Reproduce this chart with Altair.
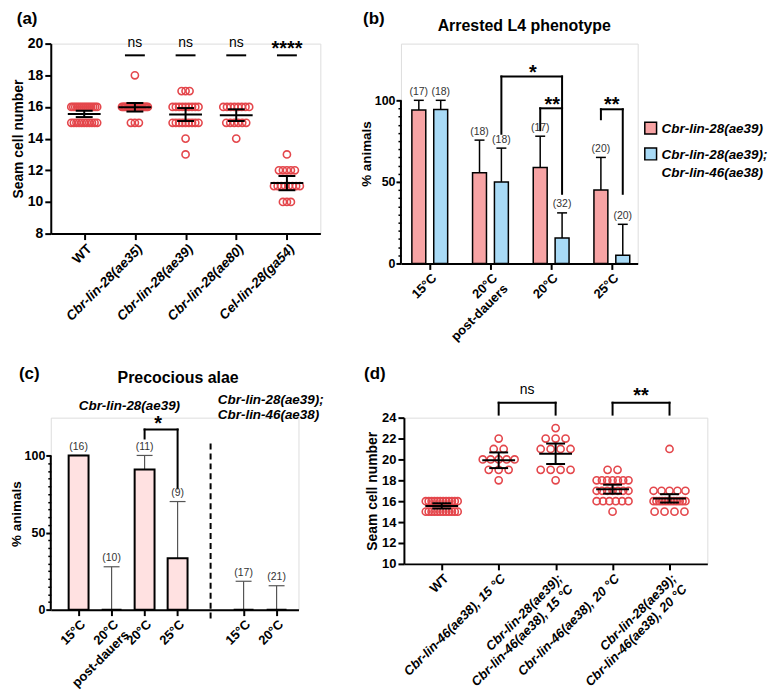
import json
import altair as alt
import pandas as pd

FONT = "Liberation Sans"
DOT_RED = "#E4474C"
BAR_RED = "#F7A3A4"
BAR_BLUE = "#A8DAF6"
BAR_PINK = "#FFE1E1"

# ================= values =================
# (a) seam cell numbers: counts of animals per seam-cell value
a_labels = ["WT", "Cbr-lin-28(ae35)", "Cbr-lin-28(ae39)", "Cbr-lin-28(ae80)", "Cel-lin-28(ga54)"]
a_dots = [
    {16: 14, 15: 11},
    {18: 1, 16: 20, 15: 3},
    {17: 3, 16: 9, 15: 9, 14: 1, 13: 1},
    {16: 8, 15: 6, 14: 1},
    {13: 1, 12: 5, 11: 8, 10: 3},
]
a_mean = [15.56, 15.98, 15.52, 15.48, 11.19]
a_sem = [0.20, 0.27, 0.41, 0.37, 0.45]
a_sig = ["", "ns", "ns", "ns", "****"]

# (b) arrested L4 phenotype (% animals)
b_labels = ["15°C", ["20°C", "post-dauers"], "20°C", "25°C"]
b_series = ["Cbr-lin-28(ae39)", "Cbr-lin-28(ae39); Cbr-lin-46(ae38)"]
b_single = [94.1, 55.6, 58.8, 45.0]
b_single_hi = [100, 75.6, 78.0, 65.0]
b_single_n = [17, 18, 17, 20]
b_double = [94.4, 50.0, 15.6, 5.0]
b_double_hi = [100, 70.7, 31.0, 24.0]
b_double_n = [18, 18, 32, 20]

# (c) precocious alae (% animals)
c_labels = ["15°C", ["20°C", "post-dauers"], "20°C", "25°C", "", "15°C", "20°C"]
c_pos = [0, 1, 2, 3, 5, 6]
c_val = [100, 0, 90.9, 33.3, 0, 0]
c_hi = [100, 27.8, 100, 70.1, 18.4, 15.5]
c_n = [16, 10, 11, 9, 17, 21]

# (d) seam cell numbers
d_labels = ["WT", "Cbr-lin-46(ae38), 15 °C", ["Cbr-lin-28(ae39);", "Cbr-lin-46(ae38), 15 °C"],
            "Cbr-lin-46(ae38), 20 °C", ["Cbr-lin-28(ae39);", "Cbr-lin-46(ae38), 20 °C"]]
d_dots = [
    {16: 12, 15: 12},
    {22: 1, 21: 2, 20: 5, 19: 3, 18: 1},
    {23: 1, 22: 3, 21: 4, 19: 4, 18: 1},
    {19: 2, 18: 7, 17: 7, 16: 6, 15: 1},
    {21: 1, 17: 5, 16: 12, 15: 4},
]
d_mean = [15.55, 19.92, 20.54, 17.15, 16.27]
d_sem = [0.25, 0.75, 0.98, 0.43, 0.40]

# ================= layout (plot sizes, domains, annotations) =================
# (b) and (c) plot areas reach up to the top of their row neighbours; their
# axis line is only drawn over 0-100 %.
A_W, A_H, A_XD, A_YD = 271, 191, [-0.66, 4.66], [8, 20]
B_W, B_H, B_XD, B_YD = 238, 221, [-0.475, 3.426], [0, 100 * 221 / 164]
C_W, C_H, C_XD, C_YD = 249, 193, [-0.843, 6.663], [0, 100 * 193 / 155]
D_W, D_H, D_XD, D_YD = 305, 147, [-0.664, 4.664], [10, 24]


def ppu(w, dom):
    return w / (dom[1] - dom[0])


def scale(dom):
    return alt.Scale(domain=dom, nice=False, zero=False)


def label_expr(labels):
    return json.dumps(labels, ensure_ascii=False) + "[datum.value]"


def x_axis(labels, values, fs, upright_test=None):
    kw = dict(values=values, labelExpr=label_expr(labels), labelAngle=-45, labelAlign="right",
              labelBaseline="top", labelFontSize=fs, labelFontWeight="bold", labelOverlap=False,
              labelPadding=2, tickSize=6, tickWidth=2, domainWidth=2, grid=False, labelFont=FONT,
              labelColor="black", tickColor="black", domainColor="black", labelFlush=False)
    if upright_test:
        kw["labelFontStyle"] = {"condition": {"test": upright_test, "value": "normal"}, "value": "italic"}
    else:
        kw["labelFontStyle"] = "normal"
    return alt.Axis(**kw)


def y_axis(values, fs, minor=False):
    kw = dict(values=values, labelFontSize=fs, labelFontWeight="bold", tickSize=6, tickWidth=2,
              domainWidth=2, grid=False, labelPadding=2, labelFont=FONT, labelColor="black",
              tickColor="black", domainColor="black", titleFont=FONT, titleFontSize=14,
              titleFontWeight="bold", titleColor="black", titlePadding=2)
    if minor:
        kw["labelExpr"] = "datum.value % 50 === 0 ? datum.label : ''"
        kw["tickSize"] = {"condition": {"test": "datum.value % 50 === 0", "value": 5}, "value": 3}
        kw["tickWidth"] = {"condition": {"test": "datum.value % 50 === 0", "value": 2}, "value": 1.5}
        kw["domain"] = False
        kw["labelPadding"] = 1
        kw["titlePadding"] = 1
        kw["titleFontSize"] = 13.5
    return alt.Axis(**kw)


class Panel:
    def __init__(self, w, h, xd, yd, xaxis, yaxis, ytitle):
        self.w, self.h, self.xd, self.yd = w, h, xd, yd
        self.xaxis, self.yaxis, self.ytitle = xaxis, yaxis, ytitle
        self.px = ppu(w, xd)
        self.py = ppu(h, yd)

    def X(self):
        return alt.X("x:Q", scale=scale(self.xd), axis=self.xaxis, title=None)

    def Y(self):
        return alt.Y("y:Q", scale=scale(self.yd), axis=self.yaxis, title=self.ytitle)

    def points(self, df, **mk):
        return alt.Chart(df).mark_point(**mk).encode(x=self.X(), y=self.Y())

    def rules(self, df, **mk):
        return alt.Chart(df).mark_rule(**mk).encode(x=self.X(), x2=alt.X2("x2"), y=self.Y(), y2=alt.Y2("y2"))

    def rects(self, df, color, **mk):
        return alt.Chart(df).mark_rect(**mk).encode(x=self.X(), x2=alt.X2("x2"), y=self.Y(), y2=alt.Y2("y2"),
                                                    color=color)

    def text(self, df, fs, vc, extra_dy=0, **mk):
        return alt.Chart(df).mark_text(font=FONT, fontSize=fs, baseline="alphabetic",
                                       dy=round(vc * fs + extra_dy, 2), **mk).encode(
            x=self.X(), y=self.Y(), text="t:N")

    def chart(self, layers):
        return alt.layer(*layers).properties(width=self.w, height=self.h)


def beeswarm(groups, ppx, max_step_px, max_span_px):
    rows = []
    for gi, counts in enumerate(groups):
        for val, k in counts.items():
            step = 0 if k == 1 else min(max_step_px, max_span_px / (k - 1))
            for j in range(k):
                rows.append({"x": gi + (j - (k - 1) / 2) * step / ppx, "y": val})
    return pd.DataFrame(rows)


def mean_sem(means, sems, ppx, mean_half_px, cap_half_px):
    rows = []
    mh, ch = mean_half_px / ppx, cap_half_px / ppx
    for i, (m, s) in enumerate(zip(means, sems)):
        rows += [dict(x=i - mh, x2=i + mh, y=m, y2=m),
                 dict(x=i - ch, x2=i + ch, y=m + s, y2=m + s),
                 dict(x=i - ch, x2=i + ch, y=m - s, y2=m - s),
                 dict(x=i, x2=i, y=m - s, y2=m + s)]
    return pd.DataFrame(rows)


def poly(points):
    return [dict(x=a[0], y=a[1], x2=b[0], y2=b[1]) for a, b in zip(points[:-1], points[1:])]


def tdf(items):
    return pd.DataFrame([{"t": t, "x": x, "y": y} for t, x, y in items])


# ================= panel (a) =================
PA = Panel(A_W, A_H, A_XD, A_YD,
           x_axis(a_labels, list(range(len(a_labels))), 13.5, "datum.value == 0"),
           y_axis(list(range(8, 21, 2)), 14), "Seam cell number")
a_sig_lines = []
for i, s in enumerate(a_sig):
    if s:
        a_sig_lines += poly([(i - 10 / PA.px, 19.26), (i + 10 / PA.px, 19.26)])
A = PA.chart([
    PA.points(beeswarm(a_dots, PA.px, 4, 26), shape="circle", filled=False, color=DOT_RED,
              strokeWidth=1.6, size=52, opacity=1),
    PA.rules(mean_sem(a_mean, a_sem, PA.px, 16.5, 8.5), color="black", strokeWidth=2),
    PA.rules(pd.DataFrame(a_sig_lines), color="black", strokeWidth=2),
    PA.text(tdf([(s, i, 20.0) for i, s in enumerate(a_sig) if s == "ns"]), 14, 0.26, color="black"),
    PA.text(tdf([(s, i, 20.0) for i, s in enumerate(a_sig) if s.startswith("*")]), 20, 0.575,
            color="black", fontWeight="bold"),
    PA.text(tdf([("(a)", -1.33, 21.51)]), 17, 0.27, color="black", fontWeight="bold", align="left"),
])

# ================= panel (b) =================
PB = Panel(B_W, B_H, B_XD, B_YD,
           x_axis(b_labels, list(range(len(b_labels))), 13),
           y_axis(list(range(0, 101, 5)), 12.5, minor=True), "% animals")
b_off, b_half, b_cap = 11 / PB.px, 7 / PB.px, 5 / PB.px
b_bars, b_wh, b_n = [], [], []
for s, vals, his, ns, sign in [(b_series[0], b_single, b_single_hi, b_single_n, -1),
                               (b_series[1], b_double, b_double_hi, b_double_n, 1)]:
    for i, (v, hi, n) in enumerate(zip(vals, his, ns)):
        cx = i + sign * b_off
        b_bars.append(dict(s=s, x=cx - b_half, x2=cx + b_half, y=0, y2=v))
        b_wh += [dict(x=cx, x2=cx, y=v, y2=hi), dict(x=cx - b_cap, x2=cx + b_cap, y=hi, y2=hi)]
        b_n.append((f"({n})", cx, hi))
b_color = alt.Color("s:N", scale=alt.Scale(domain=b_series, range=[BAR_RED, BAR_BLUE]), legend=None)
b_axis_line = poly([(B_XD[0], 0), (B_XD[0], 100)])
b_brackets = (poly([(1.18, 79.5), (1.18, 114.6), (2.18, 114.6), (2.18, 42.7)])
              + poly([(1.82, 81.7), (1.82, 95.1), (2.18, 95.1)])
              + poly([(2.82, 88.4), (2.82, 94.5), (3.18, 94.5), (3.18, 42.7)]))
b_stars = [("*", 1.70, 120.0), ("**", 2.02, 100.6), ("**", 3.0, 100.6)]
b_leg_sq = pd.DataFrame([dict(s=b_series[0], x=3.64, y=82.9), dict(s=b_series[1], x=3.64, y=67.1)])
b_leg_txt = [("Cbr-lin-28(ae39)", 3.82, 82.9), ("Cbr-lin-28(ae39);", 3.82, 67.1), ("Cbr-lin-46(ae38)", 3.82, 56.1)]
B = PB.chart([
    PB.rects(pd.DataFrame(b_bars), b_color, stroke="black", strokeWidth=1.5),
    PB.rules(pd.DataFrame(b_wh), color="black", strokeWidth=1.5),
    PB.rules(pd.DataFrame(b_axis_line), color="black", strokeWidth=2),
    PB.rules(pd.DataFrame(b_brackets), color="black", strokeWidth=2, strokeCap="square"),
    PB.text(tdf(b_n), 10.5, 0.33, -9, color="#333333"),
    PB.text(tdf(b_stars), 20, 0.575, color="black", fontWeight="bold"),
    PB.text(tdf([("Arrested L4 phenotype", 1.557, 145.7)]), 16, 0.36, color="black", fontWeight="bold"),
    PB.text(tdf([("(b)", -1.098, 149.4)]), 17, 0.27, color="black", fontWeight="bold", align="left"),
    alt.Chart(b_leg_sq).mark_point(shape="square", filled=True, size=140, stroke="black", strokeWidth=1.5,
                                   opacity=1).encode(x=PB.X(), y=PB.Y(), fill=b_color),
    PB.text(tdf(b_leg_txt), 13.5, 0.36, color="black", fontWeight="bold", fontStyle="italic", align="left"),
])

# ================= panel (c) =================
PC = Panel(C_W, C_H, C_XD, C_YD,
           x_axis(c_labels, c_pos, 13),
           y_axis(list(range(0, 101, 5)), 12.5, minor=True), "% animals")
c_half, c_cap = 10 / PC.px, 8 / PC.px
c_bars, c_wh, c_n_t = [], [], []
for p, v, hi, n in zip(c_pos, c_val, c_hi, c_n):
    c_bars.append(dict(s="c", x=p - c_half, x2=p + c_half, y=0, y2=v))
    c_wh += [dict(x=p, x2=p, y=v, y2=hi), dict(x=p - c_cap, x2=p + c_cap, y=hi, y2=hi)]
    c_n_t.append((f"({n})", p, hi))
c_axis_line = poly([(C_XD[0], 0), (C_XD[0], 100)])
c_sep = poly([(4.0, -5.8), (4.0, 110.3)])
c_bracket = poly([(2.0, 111.0), (2.0, 116.8), (3.0, 116.8), (3.0, 78.7)])
C = PC.chart([
    PC.rules(pd.DataFrame(c_wh), color="#555555", strokeWidth=1.2),
    PC.rects(pd.DataFrame(c_bars), alt.value(BAR_PINK), stroke="black", strokeWidth=2),
    PC.rules(pd.DataFrame(c_axis_line), color="black", strokeWidth=2),
    PC.rules(pd.DataFrame(c_sep), color="black", strokeWidth=2, strokeDash=[6, 4]),
    PC.rules(pd.DataFrame(c_bracket), color="black", strokeWidth=2, strokeCap="square"),
    PC.text(tdf(c_n_t), 10.5, 0.33, -9, color="#333333"),
    PC.text(tdf([("*", 2.41, 124.0)]), 20, 0.575, color="black", fontWeight="bold"),
    PC.text(tdf([("Precocious alae", 3.015, 151.0)]), 16, 0.36, color="black", fontWeight="bold"),
    PC.text(tdf([("Cbr-lin-28(ae39)", 1.54, 132.5)]), 13.5, 0.36, color="black", fontWeight="bold",
            fontStyle="italic"),
    PC.text(tdf([("Cbr-lin-28(ae39);", 4.22, 136.8), ("Cbr-lin-46(ae38)", 4.22, 126.5)]), 13.5, 0.36,
            color="black", fontWeight="bold", fontStyle="italic", align="left"),
    PC.text(tdf([("(c)", -1.808, 152.3)]), 17, 0.27, color="black", fontWeight="bold", align="left"),
])

# ================= panel (d) =================
PD = Panel(D_W, D_H, D_XD, D_YD,
           x_axis(d_labels, list(range(len(d_labels))), 13, "datum.value == 0"),
           y_axis(list(range(10, 25, 2)), 13), "Seam cell number")
d_brackets = poly([(1, 24.29), (1, 25.43), (2, 25.43), (2, 24.29)]) + poly([(3, 24.29), (3, 25.43), (4, 25.43), (4, 24.29)])
D = PD.chart([
    PD.points(beeswarm(d_dots, PD.px, 10, 32), shape="circle", filled=False, color=DOT_RED,
              strokeWidth=1.6, size=52, opacity=1),
    PD.rules(mean_sem(d_mean, d_sem, PD.px, 16.5, 9.5), color="black", strokeWidth=2),
    PD.rules(pd.DataFrame(d_brackets), color="black", strokeWidth=2, strokeCap="square"),
    PD.text(tdf([("ns", 1.5, 26.57)]), 14, 0.26, color="black"),
    PD.text(tdf([("**", 3.5, 26.57)]), 20, 0.575, color="black", fontWeight="bold"),
    PD.text(tdf([("(d)", -1.363, 28.1)]), 17, 0.27, color="black", fontWeight="bold", align="left"),
])

chart = alt.concat(
    alt.hconcat(A, B, spacing=37),
    alt.hconcat(C, D, spacing=39),
    columns=1, spacing=21, align="none",
).properties(padding=0).configure_view(stroke=None).configure(font=FONT)

chart.save("out.html", embed_options={"renderer": "svg", "actions": False})
